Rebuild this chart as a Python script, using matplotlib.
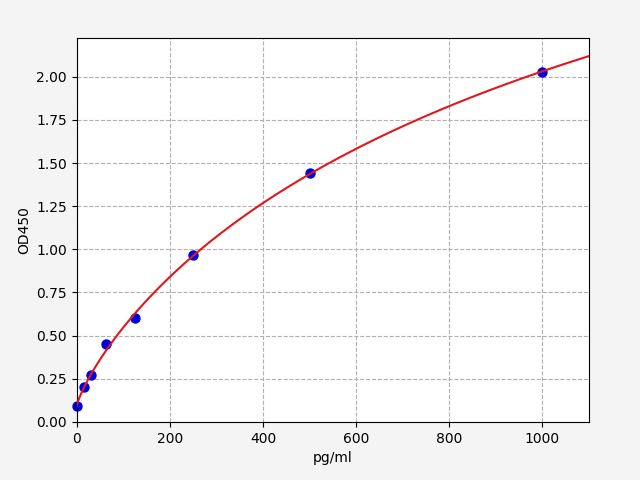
import numpy as np
import matplotlib
matplotlib.use("Agg")
import matplotlib.pyplot as plt

conc = [0, 15.6, 31.25, 62.5, 125, 250, 500, 1000]
od = [0.09, 0.20, 0.27, 0.45, 0.60, 0.965, 1.44, 2.03]

x = np.array(conc, float)
y = np.array(od, float)

# 4PL fit: grid over b, c; linear least squares for a, d
best = None
for b in np.linspace(0.5, 2.0, 61):
    for c in np.geomspace(100, 20000, 120):
        g = 1.0 / (1.0 + (x / c) ** b)
        A = np.vstack([g, 1 - g]).T
        coef, *_ = np.linalg.lstsq(A, y, rcond=None)
        r = np.sum((A @ coef - y) ** 2)
        if best is None or r < best[0]:
            best = (r, b, c, coef)
_, b, c, (a, d) = best
xf = np.linspace(0, 1100, 400)
gf = 1.0 / (1.0 + (xf / c) ** b)
yf = a * gf + d * (1 - gf)

fig = plt.figure(figsize=(6.4, 4.8), dpi=100, facecolor="#f4f4f4")
ax = fig.add_axes([0.120, 0.121, 0.800, 0.800])
ax.set_facecolor("white")
ax.scatter(x, y, color="#0000dd", s=42, zorder=2, clip_on=False)
ax.plot(xf, yf, color="#e0181b", lw=1.5, zorder=3)
ax.set_xlim(0, 1100)
ax.set_ylim(0, 2.225)
ax.set_yticks(np.arange(0, 2.01, 0.25))
ax.yaxis.set_major_formatter(matplotlib.ticker.FormatStrFormatter("%.2f"))
ax.grid(True, linestyle="--", color="#b0b0b0", lw=0.8)
ax.set_axisbelow(True)
ax.set_xlabel("pg/ml")
ax.set_ylabel("OD450")
fig.savefig("out.png", dpi=100, facecolor=fig.get_facecolor())
